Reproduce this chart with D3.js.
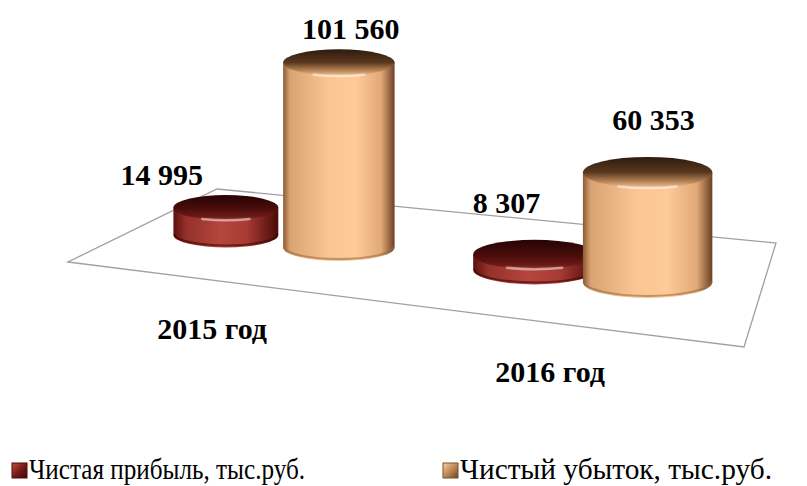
<!DOCTYPE html>
<html>
<head>
<meta charset="utf-8">
<script src="https://cdn.jsdelivr.net/npm/d3@7/dist/d3.min.js"></script>
<style>
  body { margin: 0; background: #fff; }
  text { font-family: "Liberation Serif", "Times New Roman", serif; }
</style>
</head>
<body>
<script>
// data
var categories = ["2015 год", "2016 год"];
var seriesNames = ["Чистая прибыль, тыс.руб.", "Чистый убыток, тыс.руб."];
var profit = [14995, 8307];
var loss = [101560, 60353];

var width = 807, height = 486;

var svg = d3.select("body").append("svg")
    .attr("width", width)
    .attr("height", height);

// floor plane corners (front-left, front-right, back-right, back-left)
var fA = [68, 262], fB = [744, 347], fC = [776, 243], fD = [217, 189];

// u along the floor, v into depth
function floorPt(u, v) {
  return {
    x: (1-u)*(1-v)*fA[0] + u*(1-v)*fB[0] + u*v*fC[0] + (1-u)*v*fD[0],
    y: (1-u)*(1-v)*fA[1] + u*(1-v)*fB[1] + u*v*fC[1] + (1-u)*v*fD[1]
  };
}

var fmt = d3.formatLocale({ decimal: ",", thousands: " ", grouping: [3], currency: ["", ""] }).format(",d");

// scales
var xCat = d3.scalePoint().domain(categories).range([0.225, 0.725]);
var xSer = d3.scalePoint().domain(seriesNames).range([-0.09, 0.093]);
var hScale = d3.scaleLinear().domain([0, d3.max(loss)]).range([0, 185]);

// gradients
var defs = svg.append("defs");
function grad(id, x2, y2, stops) {
  var g = defs.append("linearGradient").attr("id", id)
    .attr("x1", 0).attr("y1", 0).attr("x2", x2).attr("y2", y2);
  stops.forEach(function(s) {
    g.append("stop").attr("offset", s[0]).attr("stop-color", s[1]);
  });
}
grad("bodyRed", 1, 0, [[0, "#5e100e"], [0.12, "#94302b"], [0.45, "#b5463e"], [0.7, "#a83b34"], [1, "#4a0a08"]]);
grad("topRed", 0, 1, [[0, "#260403"], [0.55, "#4a0d0b"], [0.85, "#6a1a16"], [1, "#9a3630"]]);
grad("bodyPeach", 1, 0, [[0, "#8a5a34"], [0.06, "#d9a272"], [0.4, "#fac592"], [0.65, "#fdca98"], [0.88, "#e2a877"], [1, "#6a4024"]]);
grad("topPeach", 0, 1, [[0, "#2e1a0c"], [0.5, "#5a3820"], [0.8, "#b88658"], [1, "#f6c493"]]);
grad("legRed", 1, 1, [[0, "#c0504a"], [0.5, "#7a1a16"], [1, "#3a0806"]]);
grad("legPeach", 1, 1, [[0, "#f8cfa2"], [0.5, "#c08a58"], [1, "#6a4426"]]);

var bodyFill = ["url(#bodyRed)", "url(#bodyPeach)"];
var topFill = ["url(#topRed)", "url(#topPeach)"];
var legFill = ["url(#legRed)", "url(#legPeach)"];
var legStroke = ["#4a0a08", "#7a5030"];

// floor
svg.append("path")
  .attr("d", "M" + [fA, fB, fC, fD].map(function(p) { return p.join(","); }).join("L") + "Z")
  .attr("fill", "none")
  .attr("stroke", "#a0a0a0")
  .attr("stroke-width", 1.3);

// build bars
var bars = [];
categories.forEach(function(c, i) {
  [profit, loss].forEach(function(vals, j) {
    var u = xCat(c) + xSer(seriesNames[j]);
    var p = floorPt(u, 0.5);
    var rx = 50 + 18 * u;
    var ry = rx * 0.24;
    var h = hScale(vals[i]);
    bars.push({ i: i, j: j, value: vals[i], cx: p.x, base: p.y, rx: rx, ry: ry, top: p.y - h });
  });
});

var g = svg.selectAll("g.bar").data(bars).enter().append("g").attr("class", "bar");

g.append("path")
  .attr("d", function(d) {
    return "M" + (d.cx - d.rx) + "," + d.top +
      "L" + (d.cx - d.rx) + "," + d.base +
      "A" + d.rx + "," + d.ry + " 0 0 0 " + (d.cx + d.rx) + "," + d.base +
      "L" + (d.cx + d.rx) + "," + d.top + "Z";
  })
  .attr("fill", function(d) { return bodyFill[d.j]; });

// darker bottom rim
g.append("path")
  .attr("d", function(d) {
    return "M" + (d.cx - d.rx + 1) + "," + (d.base - 1) +
      "A" + (d.rx - 1) + "," + (d.ry - 1) + " 0 0 0 " + (d.cx + d.rx - 1) + "," + (d.base - 1);
  })
  .attr("fill", "none")
  .attr("stroke", function(d) { return d.j ? "#9a6a42" : "#3a0706"; })
  .attr("stroke-opacity", 0.6)
  .attr("stroke-width", 2);

g.append("ellipse")
  .attr("cx", function(d) { return d.cx; })
  .attr("cy", function(d) { return d.top; })
  .attr("rx", function(d) { return d.rx; })
  .attr("ry", function(d) { return d.ry; })
  .attr("fill", function(d) { return topFill[d.j]; });

// bevel highlight on the front of the top
g.append("path")
  .attr("d", function(d) {
    var r = d.rx * 0.45;
    return "M" + (d.cx - r) + "," + (d.top + d.ry * 0.9) +
      "Q" + d.cx + "," + (d.top + d.ry * 1.1) + " " + (d.cx + r) + "," + (d.top + d.ry * 0.9);
  })
  .attr("fill", "none")
  .attr("stroke", "#fff")
  .attr("stroke-opacity", 0.5)
  .attr("stroke-width", 2.5)
  .attr("stroke-linecap", "round");

// value labels
svg.selectAll("text.val").data(bars).enter().append("text")
  .attr("class", "val")
  .attr("x", function(d) { return d.cx + (d.j === 0 ? -64 + 36 * d.i : 12 - 6 * d.i); })
  .attr("y", function(d) { return d.top - d.ry - 10 - 17 * d.i; })
  .attr("text-anchor", "middle")
  .attr("font-size", 30)
  .attr("font-weight", "bold")
  .text(function(d) { return fmt(d.value); });

// category labels
svg.selectAll("text.cat").data(categories).enter().append("text")
  .attr("class", "cat")
  .attr("x", function(c) { return floorPt(xCat(c), 0).x - 8; })
  .attr("y", function(c) { return floorPt(xCat(c), 0).y + 58; })
  .attr("text-anchor", "middle")
  .attr("font-size", 30)
  .attr("font-weight", "bold")
  .text(function(c) { return c; });

// legend
var legX = [12, 443];
var legLen = [276, 312];
var leg = svg.selectAll("g.leg").data(seriesNames).enter().append("g")
  .attr("class", "leg")
  .attr("transform", function(d, j) { return "translate(" + legX[j] + ",463)"; });
leg.append("rect")
  .attr("width", 15).attr("height", 15)
  .attr("fill", function(d, j) { return legFill[j]; })
  .attr("stroke", function(d, j) { return legStroke[j]; })
  .attr("stroke-width", 1);
leg.append("text")
  .attr("x", 17)
  .attr("y", 16)
  .attr("font-size", 29)
  .attr("textLength", function(d, j) { return legLen[j]; })
  .attr("lengthAdjust", "spacingAndGlyphs")
  .text(function(d) { return d; });
</script>
</body>
</html>
